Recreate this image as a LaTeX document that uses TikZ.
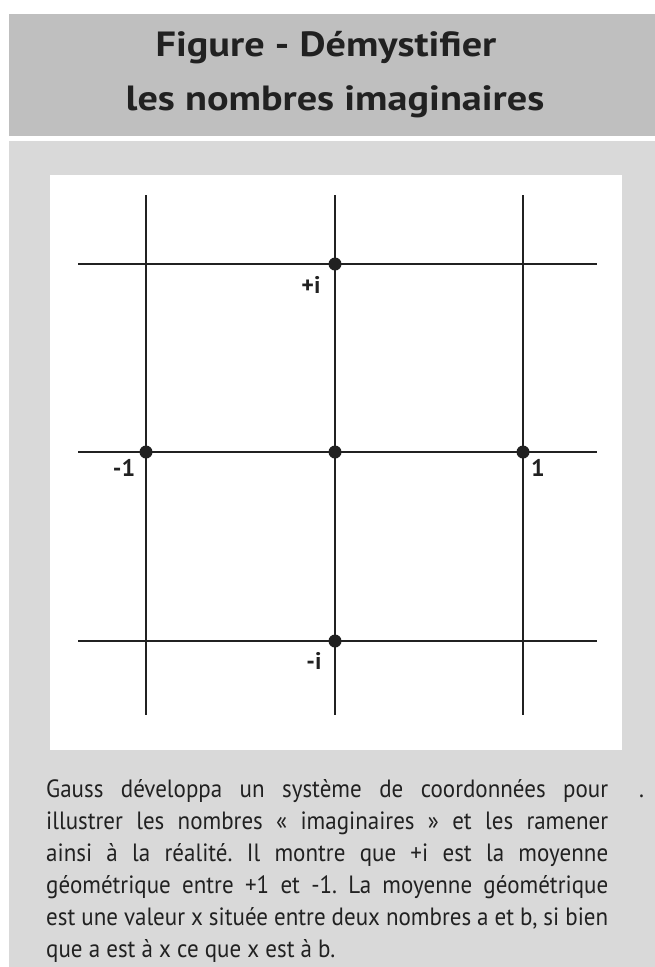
\documentclass[tikz,border=0pt]{standalone}
\usepackage{fontspec}
\setmainfont{PT Sans}
\newfontfamily\titlefont[FakeStretch=1.15]{PT Sans}
\newfontfamily\bodyfont[FakeStretch=0.92]{PT Sans}
\frenchspacing
\definecolor{band}{gray}{0.75}
\definecolor{panel}{gray}{0.85}
\definecolor{ink}{gray}{0.13}
\newlength{\tw}\setlength{\tw}{562pt}
\newcommand{\jline}[1]{\makebox[\tw][s]{#1}}
\tikzset{
  gridline/.style={draw=ink, line width=2.8pt},
  pt/.style={circle, fill=ink, inner sep=0pt, minimum size=13pt},
  lbl/.style={font=\fontsize{24}{26}\selectfont\bfseries, text=ink, inner sep=0pt},
  title/.style={font=\titlefont\fontsize{35}{40}\selectfont\bfseries, text=ink, inner sep=0pt, anchor=base},
  body/.style={font=\bodyfont\fontsize{25}{30}\selectfont, text=ink, inner sep=0pt, anchor=base west}
}
\begin{document}
\begin{tikzpicture}[x=1pt,y=-1pt]
\useasboundingbox (0,0) rectangle (655,967);
\fill[white] (0,0) rectangle (655,967);
% title band
\fill[band] (9,14) rectangle (655,136);
\node[title] (t1) at (326,56) {Figure - Démystifier};
\node[title] (t2) at (335,110) {les nombres imaginaires};
% lower panel
\fill[panel] (9,141) rectangle (655,967);
% white plot box
\fill[white] (50,175) rectangle (622,750);
% grid end coordinates
\coordinate (v1t) at (146,195); \coordinate (v1b) at (146,715);
\coordinate (v2t) at (335,195); \coordinate (v2b) at (335,715);
\coordinate (v3t) at (523,195); \coordinate (v3b) at (523,715);
\coordinate (h1l) at (78,264); \coordinate (h1r) at (597,264);
\coordinate (h2l) at (78,452); \coordinate (h2r) at (597,452);
\coordinate (h3l) at (78,641); \coordinate (h3r) at (597,641);
\draw[gridline] (v1t) -- (v1b);
\draw[gridline] (v2t) -- (v2b);
\draw[gridline] (v3t) -- (v3b);
\draw[gridline] (h1l) -- (h1r);
\draw[gridline] (h2l) -- (h2r);
\draw[gridline] (h3l) -- (h3r);
% points
\node[pt] (pi) at (335,264) {};
\node[pt] (pm1) at (146,452) {};
\node[pt] (p0) at (335,452) {};
\node[pt] (p1) at (523,452) {};
\node[pt] (pmi) at (335,641) {};
% labels
\node[lbl] (lpi) at (311,285) {+i};
\node[lbl] (lm1) at (124,468) {-1};
\node[lbl] (l1) at (538,468) {1};
\node[lbl] (lmi) at (314,661) {-i};
% caption
\node[body] (c1) at (46,797) {\jline{Gauss développa un système de coordonnées pour}};
\node[body] (c2) at (46,829) {\jline{illustrer les nombres « imaginaires » et les ramener}};
\node[body] (c3) at (46,861) {\jline{ainsi à la réalité. Il montre que +i est la moyenne}};
\node[body] (c4) at (46,893) {\jline{géométrique entre +1 et -1. La moyenne géométrique}};
\node[body] (c5) at (46,925) {\jline{est une valeur x située entre deux nombres a et b, si bien}};
\node[body] (c6) at (46,957) {que a est à x ce que x est à b.};
\node[body] (dot) at (639,797) {.};
\end{tikzpicture}
\end{document}
